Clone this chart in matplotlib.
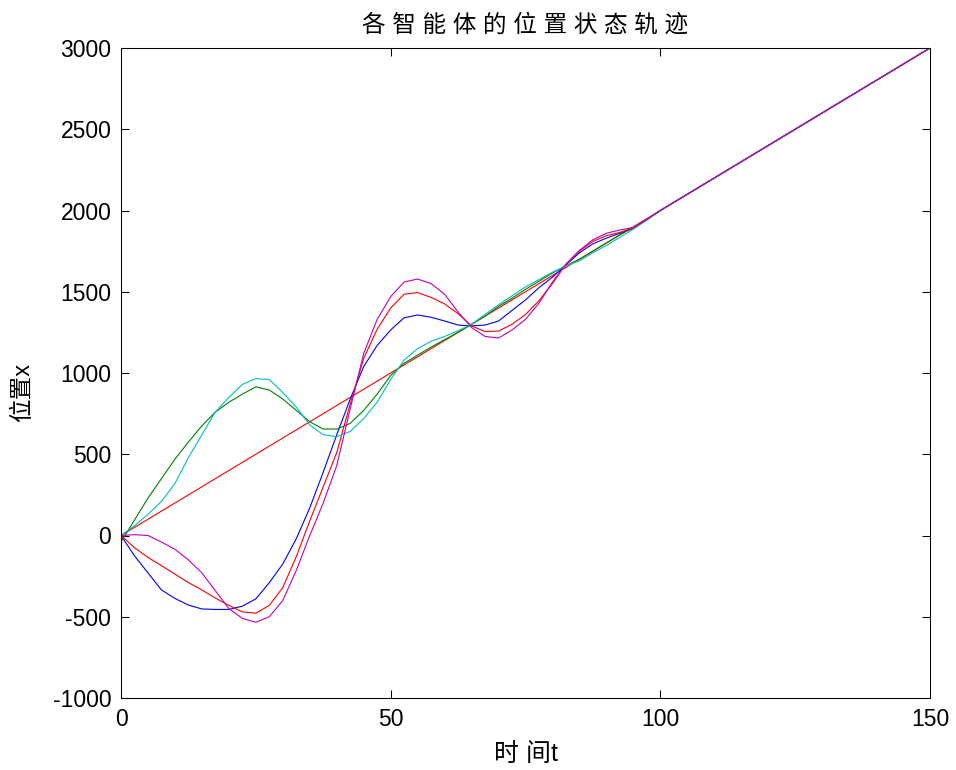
import numpy as np
import matplotlib
matplotlib.use('Agg')
import matplotlib.pyplot as plt

plt.rcParams['font.family'] = ['Liberation Sans', 'Noto Sans CJK SC', 'DejaVu Sans']
plt.rcParams['axes.unicode_minus'] = False

# time samples (same for every agent), all agents converge onto x = 20 t after t = 100
t = [0, 2.5, 5, 7.5, 10, 12.5, 15, 17.5, 20, 22.5, 25, 27.5, 30, 32.5, 35, 37.5, 40,
     42.5, 45, 47.5, 50, 52.5, 55, 57.5, 60, 62.5, 65, 67.5, 70, 72.5, 75, 77.5, 80,
     82.5, 85, 87.5, 90, 92.5, 95, 97.5, 100, 150]

# reference (leader) trajectory
t_ref = [0, 150]
x_ref = [0, 3000]

x_blue = [0, -125, -230, -335, -387, -428, -452, -455, -455, -435, -390, -290, -175, -20,
          170, 390, 620, 840, 1040, 1170, 1265, 1340, 1357, 1343, 1320, 1295, 1290, 1295,
          1320, 1385, 1450, 1525, 1590, 1665, 1740, 1795, 1830, 1860, 1890, 1945, 2000, 3000]
x_green = [-40, 95, 230, 350, 470, 575, 675, 760, 820, 870, 915, 895, 840, 770, 700, 655,
           655, 690, 770, 870, 985, 1060, 1110, 1160, 1205, 1250, 1300, 1350, 1410, 1460,
           1515, 1565, 1615, 1660, 1700, 1750, 1800, 1850, 1895, 1945, 2000, 3000]
x_red = [0, -75, -135, -185, -238, -290, -335, -385, -430, -470, -478, -430, -320, -130,
         90, 300, 510, 810, 1090, 1270, 1400, 1485, 1495, 1465, 1425, 1365, 1290, 1255,
         1258, 1300, 1360, 1445, 1550, 1670, 1750, 1810, 1845, 1865, 1895, 1945, 2000, 3000]
x_cyan = [0, 60, 130, 210, 320, 480, 620, 760, 850, 930, 965, 960, 880, 790, 680, 620,
          608, 640, 720, 820, 960, 1080, 1150, 1195, 1225, 1260, 1300, 1360, 1420, 1475,
          1530, 1575, 1620, 1660, 1690, 1740, 1785, 1835, 1885, 1940, 2000, 3000]
x_magenta = [0, 5, 0, -40, -85, -150, -230, -340, -450, -510, -534, -500, -400, -215, 0,
             200, 430, 780, 1120, 1330, 1470, 1560, 1578, 1550, 1485, 1375, 1280, 1225,
             1215, 1265, 1330, 1430, 1560, 1670, 1755, 1820, 1860, 1880, 1895, 1945, 2000, 3000]

fig = plt.figure(figsize=(9.56, 7.70), dpi=100)
ax = fig.add_axes([121/956, 72/770, 809/956, 650/770])

lw = 0.8
ax.plot(t_ref, x_ref, color='r', linewidth=lw)
ax.plot(t, x_blue, color='b', linewidth=lw)
ax.plot(t, x_green, color=(0, 0.5, 0), linewidth=lw)
ax.plot(t, x_red, color='r', linewidth=lw)
ax.plot(t, x_cyan, color=(0, 0.75, 0.75), linewidth=lw)
ax.plot(t, x_magenta, color=(0.75, 0, 0.75), linewidth=lw)

ax.set_xlim(0, 150)
ax.set_ylim(-1000, 3000)
ax.set_xticks([0, 50, 100, 150])
ax.set_yticks(np.arange(-1000, 3001, 500))
ax.tick_params(direction='in', top=True, right=True, length=5.5, width=0.75,
               labelsize=16.5, pad=7)
for s in ax.spines.values():
    s.set_linewidth(0.75)

ax.set_title('各 智 能 体 的 位 置 状 态 轨 迹', fontsize=17, pad=12)
ax.set_xlabel('时 间t', fontsize=18, labelpad=8)
ax.set_ylabel('位置x', fontsize=17)
ax.yaxis.set_label_coords(-0.108, 0.47)

fig.savefig('out.png', dpi=100)
